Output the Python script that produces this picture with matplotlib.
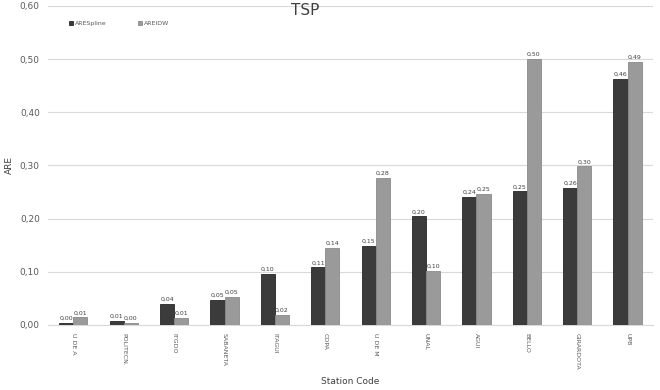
import numpy as np
import matplotlib
matplotlib.use('Agg')
from matplotlib import pyplot as plt

stations = ['U DE A', 'POLITECN.', 'ITGDO', 'SABANETA', 'ITAGUI', 'COPA',
            'U DE M', 'UNAL', 'AGUI', 'BELLO', 'GIRARDOTA', 'UPB']
are_spline = [0.004, 0.008, 0.040, 0.047, 0.096, 0.108,
              0.148, 0.204, 0.240, 0.251, 0.258, 0.462]
are_idw = [0.014, 0.003, 0.013, 0.052, 0.019, 0.144,
           0.276, 0.102, 0.247, 0.500, 0.298, 0.494]

def fmt(v):
    return '{:.2f}'.format(v).replace('.', ',')

fig = plt.figure(figsize=(6.6, 3.9), dpi=100)
ax = fig.add_axes([0.073, 0.167, 0.916, 0.818])

x = np.arange(len(stations))
w = 0.28
b1 = ax.bar(x - w/2, are_spline, w, color='#3b3b3b', edgecolor='#262626',
            linewidth=0.6, label='ARESpline', zorder=3)
b2 = ax.bar(x + w/2, are_idw, w, color='#9a9a9a', edgecolor='#8a8a8a',
            linewidth=0.6, label='AREIDW', zorder=3)

for bars, vals in ((b1, are_spline), (b2, are_idw)):
    for r, v in zip(bars, vals):
        ax.text(r.get_x() + r.get_width()/2, v + 0.004, fmt(v),
                ha='center', va='bottom', fontsize=4.5, color='#404040')

ax.set_xlim(-0.5, len(stations) - 0.5)
ax.set_ylim(0, 0.6)
yt = np.arange(0, 0.61, 0.1)
ax.set_yticks(yt)
ax.set_yticklabels([fmt(v) for v in yt], fontsize=6.5, color='#595959')
ax.set_xticks(x)
ax.set_xticklabels(stations, rotation=-90, fontsize=4.5, color='#595959')
ax.tick_params(length=0, pad=6)
ax.grid(axis='y', color='#d9d9d9', linewidth=0.8, zorder=0)
for s in ['top', 'right', 'left']:
    ax.spines[s].set_visible(False)
ax.spines['bottom'].set_color('#d9d9d9')

ax.set_ylabel('ARE', fontsize=6.5, color='#404040', labelpad=4)
ax.set_xlabel('Station Code', fontsize=6.5, color='#404040', labelpad=5)
fig.text(0.462, 0.993, 'TSP', ha='center', va='top', fontsize=11, color='#404040')

ax.legend(loc='upper left', bbox_to_anchor=(0.025, 0.97), ncol=2, frameon=False,
          fontsize=4.5, handlelength=0.7, handleheight=0.7, columnspacing=5,
          handletextpad=0.3, labelcolor='#595959')

fig.savefig('out.png', dpi=100)
